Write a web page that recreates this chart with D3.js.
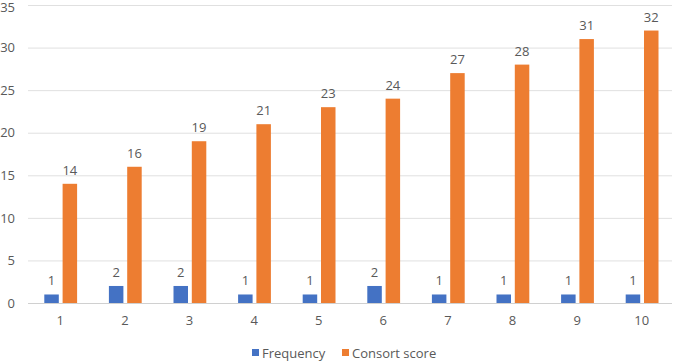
<!DOCTYPE html>
<html><head><meta charset="utf-8">
<script src="https://cdn.jsdelivr.net/npm/d3@7"></script>
<style>body{margin:0;background:#fff;} text{font-family:"Open Sans","Noto Sans",sans-serif;fill:#595959;}</style>
</head><body><svg id="c" width="674" height="362"></svg>
<script>
const categories = ["1","2","3","4","5","6","7","8","9","10"];
const frequency = [1,2,2,1,1,2,1,1,1,1];
const consort = [14,16,19,21,23,24,27,28,31,32];
const yTicks = [0,5,10,15,20,25,30,35];
const seriesNames = ["Frequency","Consort score"];
const colors = ["#4472C4","#ED7D31"];

const svg = d3.select("#c");
const x = d3.scaleBand().domain(categories).range([28,674]);
const y = d3.scaleLinear().domain([0,35]).range([303,5]);

svg.append("g").selectAll("line").data(yTicks).join("line")
  .attr("x1",28).attr("x2",672).attr("y1",d=>y(d)+0.5).attr("y2",d=>y(d)+0.5)
  .attr("stroke",d=>d===0?"#d0d0d0":"#e0e0e0").attr("stroke-width",1);

const ya = svg.append("g").attr("transform","translate(15,0)")
  .call(d3.axisLeft(y).tickValues(yTicks).tickSize(0).tickPadding(0));
ya.select(".domain").remove();
ya.selectAll("text").style("font-size","13px").attr("fill","#595959");
ya.selectAll(".tick").filter(d=>d===35).select("text").attr("dy","0.5em");

const xa = svg.append("g").attr("transform","translate(0,316)")
  .call(d3.axisBottom(x).tickSize(0).tickPadding(0));
xa.select(".domain").remove();
xa.selectAll("text").style("font-size","13px").attr("fill","#595959");

const bw = 14.5;
const series = [frequency, consort];
const offsets = [-16, 2.3];
series.forEach((vals,si)=>{
  const g = svg.append("g");
  g.selectAll("rect").data(vals).join("rect")
    .attr("x",(d,i)=>x(categories[i])+x.bandwidth()/2+offsets[si])
    .attr("width",bw)
    .attr("y",d=>y(d)).attr("height",d=>y(0)-y(d))
    .attr("fill",colors[si]);
  g.selectAll("text").data(vals).join("text")
    .attr("x",(d,i)=>x(categories[i])+x.bandwidth()/2+offsets[si]+bw/2)
    .attr("y",d=>y(d)-9)
    .attr("text-anchor","middle").style("font-size","13px").text(d=>d);
});

const lg = svg.append("g").attr("transform","translate(252,353)");
const legX = [0, 90];
seriesNames.forEach((n,i)=>{
  lg.append("rect").attr("x",legX[i]).attr("y",-4).attr("width",7).attr("height",7).attr("fill",colors[i]);
  lg.append("text").attr("x",legX[i]+10).attr("y",0).attr("dy","0.35em").style("font-size","13px").text(n);
});
</script></body></html>
